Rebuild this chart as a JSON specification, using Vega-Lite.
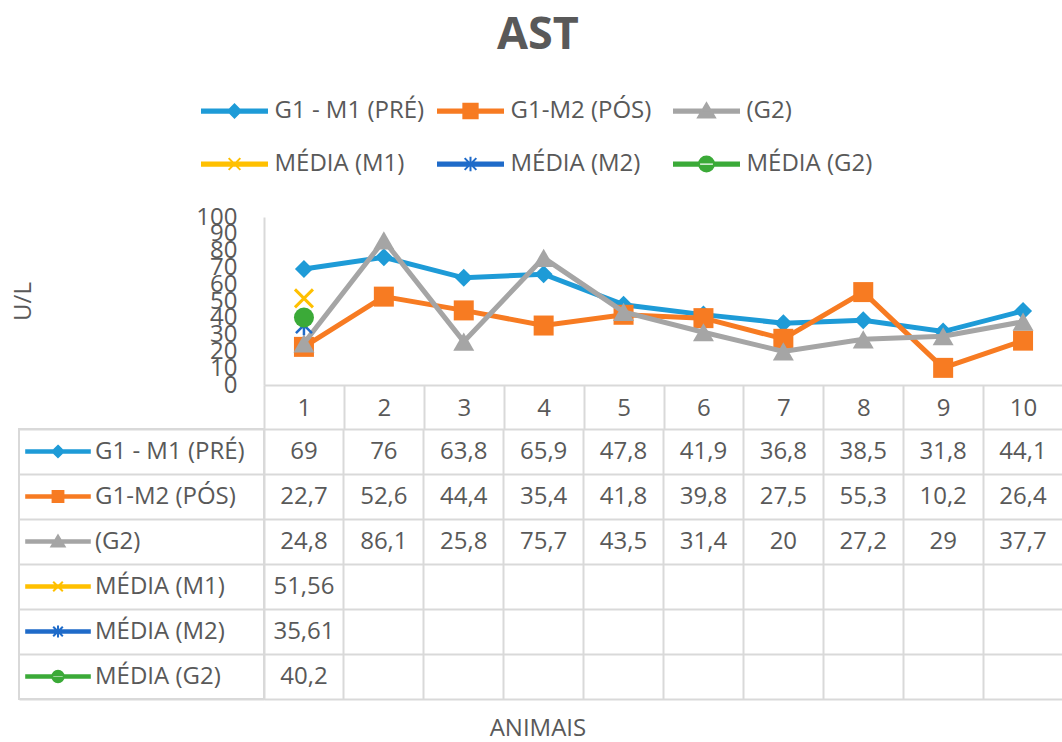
{
  "$schema": "https://vega.github.io/schema/vega-lite/v6.json",
  "padding": {"left": 11, "top": 13, "right": 0, "bottom": 2},
  "background": "white",
  "config": {
    "view": {"stroke": null},
    "font": "Open Sans",
    "locale": {"number": {"decimal": ",", "thousands": ".", "grouping": [3], "currency": ["R$", ""]}},
    "legend": {"layout": {"top": {"anchor": "middle"}}}
  },
  "datasets": {
    "ast": [
      {"animal": 1, "series": "G1 - M1 (PRÉ)", "value": 69},
      {"animal": 2, "series": "G1 - M1 (PRÉ)", "value": 76},
      {"animal": 3, "series": "G1 - M1 (PRÉ)", "value": 63.8},
      {"animal": 4, "series": "G1 - M1 (PRÉ)", "value": 65.9},
      {"animal": 5, "series": "G1 - M1 (PRÉ)", "value": 47.8},
      {"animal": 6, "series": "G1 - M1 (PRÉ)", "value": 41.9},
      {"animal": 7, "series": "G1 - M1 (PRÉ)", "value": 36.8},
      {"animal": 8, "series": "G1 - M1 (PRÉ)", "value": 38.5},
      {"animal": 9, "series": "G1 - M1 (PRÉ)", "value": 31.8},
      {"animal": 10, "series": "G1 - M1 (PRÉ)", "value": 44.1},
      {"animal": 1, "series": "G1-M2 (PÓS)", "value": 22.7},
      {"animal": 2, "series": "G1-M2 (PÓS)", "value": 52.6},
      {"animal": 3, "series": "G1-M2 (PÓS)", "value": 44.4},
      {"animal": 4, "series": "G1-M2 (PÓS)", "value": 35.4},
      {"animal": 5, "series": "G1-M2 (PÓS)", "value": 41.8},
      {"animal": 6, "series": "G1-M2 (PÓS)", "value": 39.8},
      {"animal": 7, "series": "G1-M2 (PÓS)", "value": 27.5},
      {"animal": 8, "series": "G1-M2 (PÓS)", "value": 55.3},
      {"animal": 9, "series": "G1-M2 (PÓS)", "value": 10.2},
      {"animal": 10, "series": "G1-M2 (PÓS)", "value": 26.4},
      {"animal": 1, "series": "(G2)", "value": 24.8},
      {"animal": 2, "series": "(G2)", "value": 86.1},
      {"animal": 3, "series": "(G2)", "value": 25.8},
      {"animal": 4, "series": "(G2)", "value": 75.7},
      {"animal": 5, "series": "(G2)", "value": 43.5},
      {"animal": 6, "series": "(G2)", "value": 31.4},
      {"animal": 7, "series": "(G2)", "value": 20},
      {"animal": 8, "series": "(G2)", "value": 27.2},
      {"animal": 9, "series": "(G2)", "value": 29},
      {"animal": 10, "series": "(G2)", "value": 37.7},
      {"animal": 1, "series": "MÉDIA (M1)", "value": 51.56},
      {"animal": 1, "series": "MÉDIA (M2)", "value": 35.61},
      {"animal": 1, "series": "MÉDIA (G2)", "value": 40.2}
    ]
  },
  "title": {"text": "AST", "font": "Open Sans", "fontSize": 45, "fontWeight": "bold", "color": "#595959", "anchor": "middle", "offset": 41},
  "vconcat": [
    {
      "title": {"text": "ANIMAIS", "orient": "bottom", "anchor": "middle", "font": "Open Sans", "fontSize": 24, "fontWeight": "normal", "color": "#595959", "offset": 17},
      "columns": 2,
      "bounds": "flush",
      "align": "each",
      "spacing": {"row": 44, "column": 0},
      "concat": [
        {
          "width": 245, "height": 168,
          "data": {"values": [{}]},
          "mark": {"type": "point", "opacity": 0},
          "encoding": {}
        },
        {
          "width": 799, "height": 168,
          "data": {"name": "ast"},
          "encoding": {
            "x": {"field": "animal", "type": "ordinal",
              "scale": {"type": "band", "paddingInner": 0, "paddingOuter": 0, "domain": [1,2,3,4,5,6,7,8,9,10]},
              "axis": {"title": null, "labelAngle": 0, "domainColor": "#D9D9D9", "domainWidth": 2, "tickBand": "extent", "tickColor": "#D9D9D9", "tickWidth": 2, "tickSize": 44, "labelPadding": -33, "labelFontSize": 24, "labelColor": "#595959", "labelFont": "Open Sans", "grid": false}},
            "y": {"field": "value", "type": "quantitative",
              "scale": {"domain": [0, 100], "nice": false},
              "axis": {"title": "U/L", "values": [0,10,20,30,40,50,60,70,80,90,100], "labelOverlap": false, "ticks": false, "grid": false, "domainColor": "#D9D9D9", "domainWidth": 2, "labelPadding": 27, "labelFontSize": 24, "labelColor": "#595959", "labelFont": "Open Sans", "titleFont": "Open Sans", "titleFontSize": 24, "titleFontWeight": "normal", "titleColor": "#595959", "titlePadding": 160}}
          },
          "layer": [
            {"transform": [{"filter": {"field": "series", "equal": "G1 - M1 (PRÉ)"}}], "mark": {"type": "line", "color": "#1E9BD7", "strokeWidth": 5}},
            {"transform": [{"filter": {"field": "series", "equal": "G1 - M1 (PRÉ)"}}], "mark": {"type": "point", "shape": "diamond", "filled": true, "opacity": 1, "size": 324, "color": "#1E9BD7"}},
            {"transform": [{"filter": {"field": "series", "equal": "G1-M2 (PÓS)"}}], "mark": {"type": "line", "color": "#F77B22", "strokeWidth": 5}},
            {"transform": [{"filter": {"field": "series", "equal": "G1-M2 (PÓS)"}}], "mark": {"type": "point", "shape": "square", "filled": true, "opacity": 1, "size": 400, "color": "#F77B22"}},
            {"transform": [{"filter": {"field": "series", "equal": "(G2)"}}], "mark": {"type": "line", "color": "#A5A5A5", "strokeWidth": 5}},
            {"transform": [{"filter": {"field": "series", "equal": "(G2)"}}], "mark": {"type": "point", "shape": "triangle-up", "filled": true, "opacity": 1, "size": 440, "color": "#A5A5A5"}},
            {"transform": [{"filter": {"field": "series", "equal": "MÉDIA (M1)"}}], "mark": {"type": "point", "shape": "M-0.9,-0.9L0.9,0.9M-0.9,0.9L0.9,-0.9", "filled": false, "opacity": 1, "size": 400, "stroke": "#FFC000", "strokeWidth": 3}},
            {"transform": [{"filter": {"field": "series", "equal": "MÉDIA (M2)"}}], "mark": {"type": "point", "shape": "M-0.8,-0.8L0.8,0.8M-0.8,0.8L0.8,-0.8M0,-1V1", "filled": false, "opacity": 1, "size": 400, "stroke": "#1F6BC9", "strokeWidth": 2.5}},
            {"transform": [{"filter": {"field": "series", "equal": "MÉDIA (G2)"}}], "mark": {"type": "point", "shape": "circle", "filled": true, "opacity": 1, "size": 400, "color": "#3BAA38"}},
            {
              "mark": {"type": "point", "filled": true, "opacity": 0},
              "encoding": {
                "fill": {"field": "series", "type": "nominal",
                  "scale": {"domain": ["G1 - M1 (PRÉ)", "G1-M2 (PÓS)", "(G2)", "MÉDIA (M1)", "MÉDIA (M2)", "MÉDIA (G2)"], "range": ["#1E9BD7", "#F77B22", "#A5A5A5", "#FFC000", "#1F6BC9", "#3BAA38"]},
                  "legend": {"title": null, "orient": "top", "direction": "horizontal", "columns": 3, "gridAlign": "all", "columnPadding": 9, "rowPadding": 29, "offset": 29, "padding": 0, "symbolSize": 169, "symbolStrokeWidth": 2, "symbolOpacity": 1, "symbolOffset": 20.5, "labelOffset": 28, "labelFontSize": 24, "labelColor": "#595959", "labelFont": "Open Sans", "labelLimit": 300}},
                "stroke": {"field": "series", "type": "nominal",
                  "scale": {"domain": ["G1 - M1 (PRÉ)", "G1-M2 (PÓS)", "(G2)", "MÉDIA (M1)", "MÉDIA (M2)", "MÉDIA (G2)"], "range": ["#1E9BD7", "#F77B22", "#A5A5A5", "#FFC000", "#1F6BC9", "#3BAA38"]},
                  "legend": {"title": null, "orient": "top", "direction": "horizontal", "columns": 3, "gridAlign": "all", "columnPadding": 9, "rowPadding": 29, "offset": 29, "padding": 0, "symbolSize": 169, "symbolStrokeWidth": 2, "symbolOpacity": 1, "symbolOffset": 20.5, "labelOffset": 28, "labelFontSize": 24, "labelColor": "#595959", "labelFont": "Open Sans", "labelLimit": 300}},
                "shape": {"field": "series", "type": "nominal",
                  "scale": {"domain": ["G1 - M1 (PRÉ)", "G1-M2 (PÓS)", "(G2)", "MÉDIA (M1)", "MÉDIA (M2)", "MÉDIA (G2)"],
                    "range": [
                      "M-5,-0.25H5V0.25H-5Z M0,-1L1,0L0,1L-1,0Z",
                      "M-5,-0.25H5V0.25H-5Z M-1.1,-1.1H1.1V1.1H-1.1Z",
                      "M-5,-0.25H5V0.25H-5Z M0,-1.2L1.3,1L-1.3,1Z",
                      "M-5,-0.25H5V0.25H-5Z M-0.9,-0.9L0.9,0.9M-0.9,0.9L0.9,-0.9",
                      "M-5,-0.25H5V0.25H-5Z M-0.9,-0.9L0.9,0.9M-0.9,0.9L0.9,-0.9M0,-1.1V1.1",
                      "M-5,-0.25H5V0.25H-5Z M-1.15,0A1.15,1.15 0 1,0 1.15,0A1.15,1.15 0 1,0 -1.15,0Z"
                    ]},
                  "legend": {"title": null, "orient": "top", "direction": "horizontal", "columns": 3, "gridAlign": "all", "columnPadding": 9, "rowPadding": 29, "offset": 29, "padding": 0, "symbolSize": 169, "symbolStrokeWidth": 2, "symbolOpacity": 1, "symbolOffset": 20.5, "labelOffset": 28, "labelFontSize": 24, "labelColor": "#595959", "labelFont": "Open Sans", "labelLimit": 300}}
              }
            }
          ]
        },
        {
          "hconcat": [
            {
              "width": 245, "height": 270,
              "view": {"stroke": "#D9D9D9", "strokeWidth": 2},
              "data": {"name": "ast"},
              "mark": {"type": "point", "filled": true, "opacity": 0},
              "encoding": {
                "y": {"field": "series", "type": "nominal",
                  "scale": {"type": "band", "domain": ["G1 - M1 (PRÉ)", "G1-M2 (PÓS)", "(G2)", "MÉDIA (M1)", "MÉDIA (M2)", "MÉDIA (G2)"], "paddingInner": 0, "paddingOuter": 0},
                  "axis": {"title": null, "labels": false, "ticks": false, "domain": false, "grid": true, "gridColor": "#D9D9D9", "gridWidth": 2, "tickBand": "extent"}},
                "fill": {"field": "series", "type": "nominal",
                  "scale": {"domain": ["G1 - M1 (PRÉ)", "G1-M2 (PÓS)", "(G2)", "MÉDIA (M1)", "MÉDIA (M2)", "MÉDIA (G2)"], "range": ["#1E9BD7", "#F77B22", "#A5A5A5", "#FFC000", "#1F6BC9", "#3BAA38"]},
                  "legend": {"title": null, "orient": "top-left", "direction": "vertical", "offset": 0, "padding": 10.5, "rowPadding": 21, "symbolSize": 144, "symbolStrokeWidth": 2, "symbolOpacity": 1, "symbolOffset": 16.5, "labelOffset": 25, "labelFontSize": 24, "labelColor": "#595959", "labelFont": "Open Sans", "labelLimit": 300}},
                "stroke": {"field": "series", "type": "nominal",
                  "scale": {"domain": ["G1 - M1 (PRÉ)", "G1-M2 (PÓS)", "(G2)", "MÉDIA (M1)", "MÉDIA (M2)", "MÉDIA (G2)"], "range": ["#1E9BD7", "#F77B22", "#A5A5A5", "#FFC000", "#1F6BC9", "#3BAA38"]},
                  "legend": {"title": null, "orient": "top-left", "direction": "vertical", "offset": 0, "padding": 10.5, "rowPadding": 21, "symbolSize": 144, "symbolStrokeWidth": 2, "symbolOpacity": 1, "symbolOffset": 16.5, "labelOffset": 25, "labelFontSize": 24, "labelColor": "#595959", "labelFont": "Open Sans", "labelLimit": 300}},
                "shape": {"field": "series", "type": "nominal",
                  "scale": {"domain": ["G1 - M1 (PRÉ)", "G1-M2 (PÓS)", "(G2)", "MÉDIA (M1)", "MÉDIA (M2)", "MÉDIA (G2)"],
                    "range": [
                      "M-5.3,-0.2H5.3V0.2H-5.3Z M0,-0.95L0.95,0L0,0.95L-0.95,0Z",
                      "M-5.3,-0.2H5.3V0.2H-5.3Z M-0.9,-0.9H0.9V0.9H-0.9Z",
                      "M-5.3,-0.2H5.3V0.2H-5.3Z M0,-1L1.1,0.85L-1.1,0.85Z",
                      "M-5.3,-0.2H5.3V0.2H-5.3Z M-0.8,-0.8L0.8,0.8M-0.8,0.8L0.8,-0.8",
                      "M-5.3,-0.2H5.3V0.2H-5.3Z M-0.8,-0.8L0.8,0.8M-0.8,0.8L0.8,-0.8M0,-1V1",
                      "M-5.3,-0.2H5.3V0.2H-5.3Z M-0.95,0A0.95,0.95 0 1,0 0.95,0A0.95,0.95 0 1,0 -0.95,0Z"
                    ]},
                  "legend": {"title": null, "orient": "top-left", "direction": "vertical", "offset": 0, "padding": 10.5, "rowPadding": 21, "symbolSize": 144, "symbolStrokeWidth": 2, "symbolOpacity": 1, "symbolOffset": 16.5, "labelOffset": 25, "labelFontSize": 24, "labelColor": "#595959", "labelFont": "Open Sans", "labelLimit": 300}}
              }
            }
          ],
          "resolve": {
            "scale": {"fill": "independent", "stroke": "independent", "shape": "independent"},
            "legend": {"fill": "independent", "stroke": "independent", "shape": "independent"}
          }
        },
        {
          "width": 799, "height": 270,
          "data": {"name": "ast"},
          "mark": {"type": "text", "fontSize": 24, "color": "#595959", "font": "Open Sans"},
          "encoding": {
            "x": {"field": "animal", "type": "ordinal",
              "scale": {"type": "band", "paddingInner": 0, "paddingOuter": 0, "domain": [1,2,3,4,5,6,7,8,9,10]},
              "axis": {"title": null, "labels": false, "ticks": false, "domain": false, "grid": true, "gridColor": "#D9D9D9", "gridWidth": 2, "bandPosition": 0}},
            "y": {"field": "series", "type": "nominal",
              "scale": {"type": "band", "domain": ["G1 - M1 (PRÉ)", "G1-M2 (PÓS)", "(G2)", "MÉDIA (M1)", "MÉDIA (M2)", "MÉDIA (G2)"], "paddingInner": 0, "paddingOuter": 0},
              "axis": {"title": null, "labels": false, "ticks": false, "domain": false, "grid": true, "gridColor": "#D9D9D9", "gridWidth": 2, "tickBand": "extent"}},
            "text": {"field": "value", "type": "quantitative", "format": "~r"}
          }
        }
      ]
    }
  ]
}
